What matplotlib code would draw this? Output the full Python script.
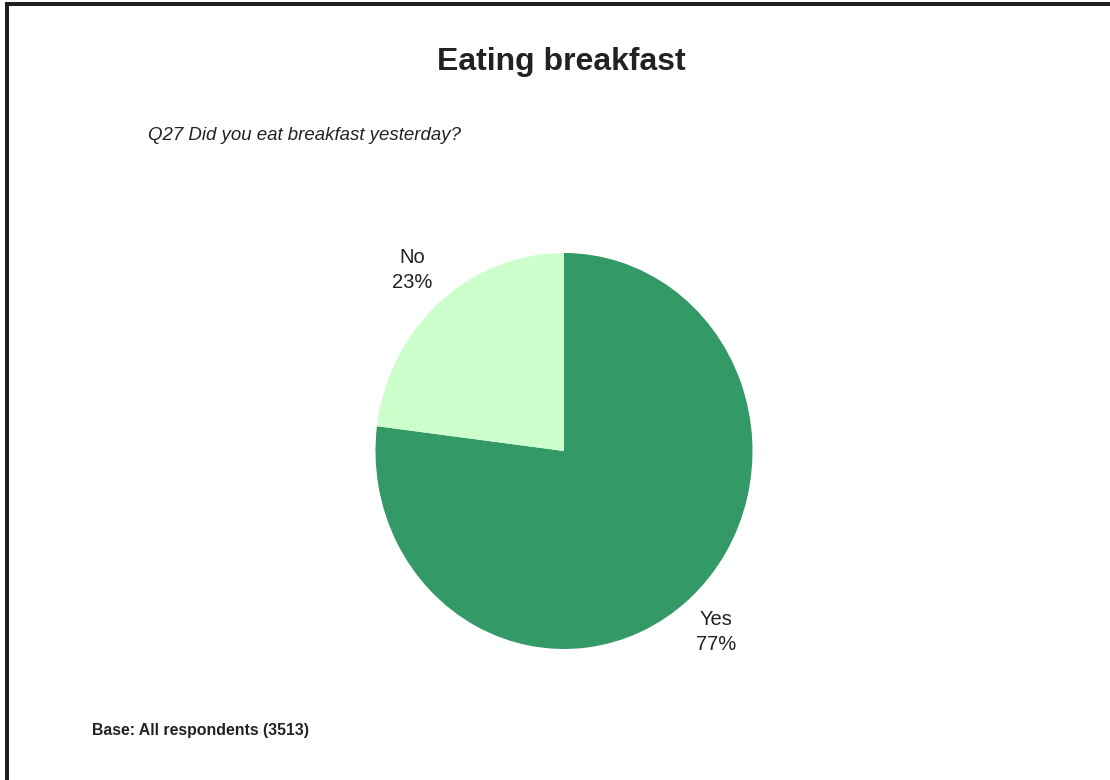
import matplotlib.pyplot as plt
from matplotlib.patches import Rectangle

plt.rcParams['font.family'] = ['Liberation Sans', 'DejaVu Sans']

categories = ['Yes', 'No']
shares = [77, 23]
colors = ['#339966', '#ccffcc']

W, H = 1110, 780
fig = plt.figure(figsize=(W / 100, H / 100), dpi=100)

# dark frame along the top and left edges
fig.patches.append(Rectangle((5 / W, 1 - 6 / H), 1 - 5 / W, 4 / H, transform=fig.transFigure,
                             facecolor='#1e1e1e', linewidth=0, zorder=5))
fig.patches.append(Rectangle((5 / W, 0), 4 / W, 1 - 2 / H, transform=fig.transFigure,
                             facecolor='#1e1e1e', linewidth=0, zorder=5))

fig.text(561 / W, 1 - 62 / H, 'Eating breakfast', ha='center', va='center',
         fontsize=23, fontweight='bold', color='#222222')
fig.text(148 / W, 1 - 136 / H, 'Q27 Did you eat breakfast yesterday?', ha='left',
         va='center', fontsize=13.4, fontstyle='italic', color='#222222')
fig.text(92 / W, 1 - 730 / H, 'Base: All respondents (3513)', ha='left', va='center',
         fontsize=11.4, fontweight='bold', color='#222222')

# pie sits in a box 377 x 396 px centred near (564, 451)
ax = fig.add_axes([375.5 / W, (H - 649) / H, 377 / W, 396 / H])
labels = [f'{c}\n{v}%' for c, v in zip(categories, shares)]
ax.pie(shares, labels=labels, colors=colors, startangle=90, counterclock=False,
       labeldistance=1.22, wedgeprops={'linewidth': 0},
       textprops={'ha': 'center', 'va': 'center', 'fontsize': 14.5, 'color': '#222222',
                  'linespacing': 1.38})
ax.set_xlim(-1, 1)
ax.set_ylim(-1, 1)
ax.set_aspect('auto')
ax.axis('off')

fig.savefig('out.png', dpi=100)
